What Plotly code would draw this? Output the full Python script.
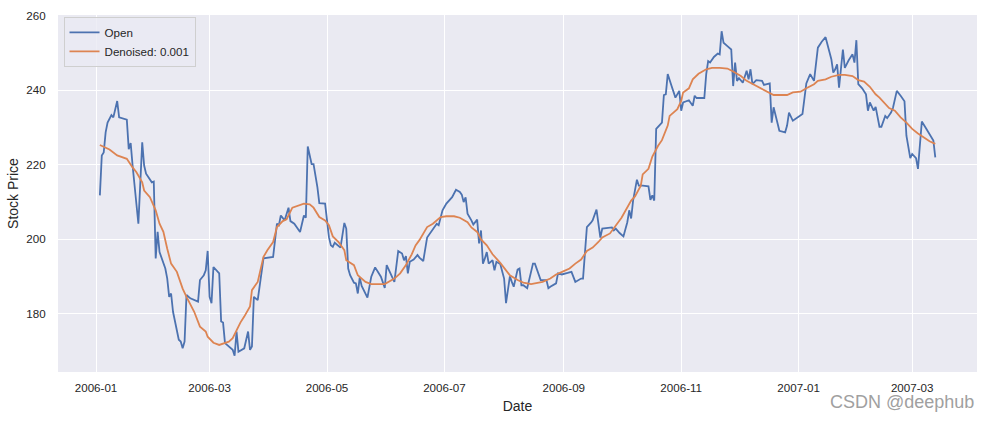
import plotly.graph_objects as go

open_dates = [
"2006-01-03","2006-01-04","2006-01-05","2006-01-06","2006-01-07","2006-01-09","2006-01-10","2006-01-11","2006-01-12","2006-01-13",
"2006-01-17","2006-01-18","2006-01-19","2006-01-20","2006-01-23","2006-01-25","2006-01-26","2006-01-27","2006-01-30","2006-01-31",
"2006-02-01","2006-02-02","2006-02-03","2006-02-06","2006-02-07","2006-02-08","2006-02-09","2006-02-10","2006-02-12","2006-02-13",
"2006-02-14","2006-02-15","2006-02-16","2006-02-17","2006-02-19","2006-02-21","2006-02-23","2006-02-24","2006-02-26","2006-02-27",
"2006-02-28","2006-03-01","2006-03-02","2006-03-03","2006-03-06","2006-03-07","2006-03-08","2006-03-09","2006-03-11","2006-03-13",
"2006-03-14","2006-03-15","2006-03-16","2006-03-19","2006-03-21","2006-03-22","2006-03-23","2006-03-24","2006-03-26","2006-03-29",
"2006-04-03","2006-04-05","2006-04-06","2006-04-07","2006-04-09","2006-04-11","2006-04-12","2006-04-14","2006-04-17","2006-04-19",
"2006-04-20","2006-04-21","2006-04-23","2006-04-24","2006-04-26","2006-04-27","2006-04-30","2006-05-02","2006-05-03","2006-05-04",
"2006-05-05","2006-05-08","2006-05-10","2006-05-11","2006-05-12","2006-05-13","2006-05-15","2006-05-16","2006-05-17","2006-05-18",
"2006-05-19","2006-05-22","2006-05-24","2006-05-26","2006-05-29","2006-05-31","2006-06-01","2006-06-05","2006-06-07","2006-06-09",
"2006-06-10","2006-06-11","2006-06-12","2006-06-13","2006-06-15","2006-06-17","2006-06-18","2006-06-20","2006-06-22","2006-06-24",
"2006-06-25","2006-06-27","2006-06-28","2006-06-30","2006-07-02","2006-07-05","2006-07-07","2006-07-09","2006-07-10","2006-07-11",
"2006-07-12","2006-07-13","2006-07-15","2006-07-16","2006-07-18","2006-07-19","2006-07-20","2006-07-21","2006-07-22","2006-07-23",
"2006-07-24","2006-07-26","2006-07-27","2006-07-28","2006-07-30","2006-07-31","2006-08-01","2006-08-02","2006-08-04","2006-08-05",
"2006-08-06","2006-08-08","2006-08-09","2006-08-10","2006-08-11","2006-08-13","2006-08-14","2006-08-16","2006-08-17","2006-08-18",
"2006-08-20","2006-08-23","2006-08-24","2006-08-25","2006-08-28","2006-08-29","2006-08-31","2006-09-03","2006-09-05","2006-09-07",
"2006-09-10","2006-09-11","2006-09-12","2006-09-13","2006-09-15","2006-09-16","2006-09-18","2006-09-20","2006-09-21","2006-09-26",
"2006-09-27","2006-09-28","2006-09-30","2006-10-02","2006-10-04","2006-10-05","2006-10-06","2006-10-07","2006-10-09","2006-10-10",
"2006-10-12","2006-10-15","2006-10-16","2006-10-17","2006-10-18","2006-10-19","2006-10-22","2006-10-23","2006-10-24","2006-10-25",
"2006-10-27","2006-10-29","2006-10-31","2006-11-01","2006-11-02","2006-11-05","2006-11-07","2006-11-08","2006-11-09","2006-11-13",
"2006-11-14","2006-11-15","2006-11-16","2006-11-18","2006-11-20","2006-11-21","2006-11-22","2006-11-23","2006-11-25","2006-11-27",
"2006-11-28","2006-11-29","2006-11-30","2006-12-01","2006-12-03","2006-12-05","2006-12-06","2006-12-07","2006-12-08","2006-12-10",
"2006-12-13","2006-12-14","2006-12-17","2006-12-18","2006-12-19","2006-12-20","2006-12-22","2006-12-25","2006-12-26","2006-12-27",
"2006-12-29","2007-01-03","2007-01-04","2007-01-05","2007-01-07","2007-01-09","2007-01-11","2007-01-13","2007-01-15","2007-01-18",
"2007-01-19","2007-01-20","2007-01-21","2007-01-22","2007-01-24","2007-01-25","2007-01-27","2007-01-28","2007-01-29","2007-01-30",
"2007-01-31","2007-02-01","2007-02-03","2007-02-05","2007-02-06","2007-02-07","2007-02-08","2007-02-09","2007-02-10","2007-02-11",
"2007-02-12","2007-02-13","2007-02-15","2007-02-16","2007-02-18","2007-02-19","2007-02-21","2007-02-23","2007-02-25","2007-02-26",
"2007-02-28","2007-03-01","2007-03-03","2007-03-04","2007-03-06","2007-03-08","2007-03-10","2007-03-12","2007-03-13"]

open_values = [
211.8,222.5,223.3,228.7,231.3,233.3,232.7,235.4,237.1,232.7,
232.1,224.2,225.8,219.8,204.2,226.0,219.8,217.6,215.3,215.5,
194.9,202.0,196.6,192.2,189.5,184.6,185.5,180.6,175.3,173.1,
172.6,170.8,172.6,185.1,184.2,183.7,183.3,189.1,190.4,191.7,
196.9,184.6,182.9,192.6,190.9,178.0,177.7,172.2,171.3,170.4,
168.8,175.3,169.9,170.8,175.3,170.4,171.3,184.6,183.7,194.9,
195.3,204.2,203.8,206.4,205.1,208.5,204.9,204.2,202.0,206.4,
205.8,224.9,220.2,220.2,214.0,209.7,209.6,200.6,198.4,198.0,
199.1,197.8,204.4,202.9,192.2,190.4,188.4,188.2,185.5,189.8,
187.5,184.4,190.0,192.5,190.0,187.0,193.1,188.6,196.9,196.2,
194.4,195.5,190.9,194.0,194.6,195.8,195.1,194.2,200.5,202.0,
202.9,204.2,203.8,207.8,209.6,211.3,213.3,212.7,212.0,210.0,
211.3,206.9,205.1,204.0,205.3,198.9,202.4,193.5,194.9,196.6,
193.5,194.4,191.7,194.0,193.4,191.0,189.5,182.9,190.1,188.6,
187.3,191.9,192.2,187.7,187.7,186.9,189.1,193.5,193.5,192.2,
189.1,189.1,186.9,187.3,188.2,190.9,190.6,191.0,191.3,188.6,
189.5,189.5,198.0,203.3,204.4,205.1,208.0,200.5,202.9,203.2,
202.4,202.9,201.7,200.8,204.6,207.8,205.6,210.4,216.0,214.4,
214.4,214.2,210.6,211.8,210.4,229.6,231.3,238.7,238.9,244.3,
241.1,238.0,239.8,234.5,236.7,237.3,235.8,238.5,237.9,237.9,
244.3,247.8,247.4,248.9,249.8,249.6,255.8,252.7,251.8,250.9,
241.1,247.4,242.5,243.2,242.0,245.2,242.9,245.6,241.6,242.7,
242.5,241.4,241.8,231.3,235.4,233.1,229.1,228.7,230.5,234.0,
231.8,233.6,238.7,241.8,244.3,242.5,251.4,253.0,254.2,248.3,
244.7,245.6,246.9,240.7,250.9,246.0,248.0,248.7,249.6,247.4,
253.4,241.6,240.5,238.9,234.5,236.7,235.5,234.5,235.5,232.3,
230.2,230.2,233.1,232.5,234.0,235.2,239.8,238.5,237.0,227.8,
221.8,222.9,221.8,218.9,231.6,229.9,228.3,226.5,222.0]

den_dates = [
"2006-01-03","2006-01-08","2006-01-12","2006-01-17","2006-01-20","2006-01-22","2006-01-25","2006-01-26","2006-01-29","2006-02-01",
"2006-02-03","2006-02-05","2006-02-07","2006-02-09","2006-02-12","2006-02-15","2006-02-17","2006-02-19","2006-02-21","2006-02-24",
"2006-02-27","2006-02-28","2006-03-03","2006-03-06","2006-03-08","2006-03-11","2006-03-13","2006-03-15","2006-03-17","2006-03-19",
"2006-03-22","2006-03-23","2006-03-26","2006-03-29","2006-03-31","2006-04-03","2006-04-05","2006-04-08","2006-04-10","2006-04-13",
"2006-04-15","2006-04-19","2006-04-22","2006-04-24","2006-04-27","2006-04-30","2006-05-02","2006-05-04","2006-05-07","2006-05-10",
"2006-05-11","2006-05-15","2006-05-17","2006-05-21","2006-05-24","2006-05-28","2006-05-31","2006-06-05","2006-06-08","2006-06-11",
"2006-06-14","2006-06-16","2006-06-18","2006-06-22","2006-06-25","2006-06-29","2006-07-02","2006-07-06","2006-07-09","2006-07-13",
"2006-07-15","2006-07-18","2006-07-20","2006-07-23","2006-07-26","2006-07-30","2006-08-02","2006-08-04","2006-08-08","2006-08-11",
"2006-08-15","2006-08-18","2006-08-21","2006-08-25","2006-08-28","2006-09-01","2006-09-04","2006-09-07","2006-09-10","2006-09-13",
"2006-09-16","2006-09-19","2006-09-21","2006-09-25","2006-09-29","2006-10-01","2006-10-06","2006-10-08","2006-10-11","2006-10-12",
"2006-10-15","2006-10-17","2006-10-20","2006-10-22","2006-10-25","2006-10-26","2006-10-30","2006-11-01","2006-11-02","2006-11-05",
"2006-11-07","2006-11-10","2006-11-14","2006-11-17","2006-11-21","2006-11-25","2006-11-28","2006-12-02","2006-12-05","2006-12-09",
"2006-12-12","2006-12-16","2006-12-19","2006-12-23","2006-12-26","2006-12-29","2007-01-02","2007-01-05","2007-01-09","2007-01-11",
"2007-01-15","2007-01-18","2007-01-22","2007-01-25","2007-01-29","2007-02-01","2007-02-04","2007-02-07","2007-02-10","2007-02-12",
"2007-02-15","2007-02-17","2007-02-20","2007-02-23","2007-02-26","2007-03-01","2007-03-04","2007-03-07","2007-03-10","2007-03-13"]

den_values = [
225.3,224.1,222.5,221.6,219.3,218.0,215.3,213.1,211.3,207.8,
204.2,202.0,197.5,193.5,191.3,186.8,184.6,182.5,180.6,176.6,
175.3,173.9,172.3,171.7,172.0,172.6,173.5,175.7,177.7,179.3,
182.0,186.4,188.6,195.3,197.1,199.3,203.3,204.9,205.4,208.5,
208.8,209.6,209.4,208.5,206.0,205.1,203.8,200.8,199.3,197.1,
194.4,193.1,190.4,188.6,188.0,188.0,188.0,189.5,190.9,193.1,
196.0,198.4,199.8,203.3,204.2,206.0,206.2,206.2,205.8,204.6,
203.2,202.0,200.0,198.4,196.0,193.7,191.7,190.4,189.1,188.4,
188.0,188.2,188.6,189.5,190.6,191.5,192.2,193.5,194.6,196.9,
197.8,199.3,200.5,201.6,204.6,205.8,210.4,211.5,214.4,217.4,
218.9,222.2,225.1,226.6,230.5,233.1,234.9,237.1,239.4,240.5,
242.9,244.4,245.6,246.0,246.0,245.8,245.0,243.8,242.5,241.4,
240.5,239.4,238.7,238.7,238.7,239.4,239.6,240.5,241.6,242.5,
242.9,243.6,244.1,244.1,243.8,242.7,242.3,240.9,238.9,238.0,
236.3,235.2,234.5,232.7,231.3,229.6,228.4,227.3,226.3,225.6]

series_names = ["Open", "Denoised: 0.001"]
y_ticks = [180, 200, 220, 240, 260]

FONT = "Liberation Sans, Arial, sans-serif"
TXT = "#262626"

fig = go.Figure()
fig.add_trace(go.Scatter(x=open_dates, y=open_values, mode="lines", name=series_names[0],
                         line=dict(color="#4C72B0", width=1.8)))
fig.add_trace(go.Scatter(x=den_dates, y=den_values, mode="lines", name=series_names[1],
                         line=dict(color="#DD8452", width=1.8)))

fig.update_layout(
    width=990, height=421,
    margin=dict(l=58, r=13, t=15, b=49, autoexpand=False),
    paper_bgcolor="white",
    plot_bgcolor="#EAEAF2",
    font=dict(family=FONT, size=11.6, color=TXT),
    showlegend=True,
    legend=dict(x=0.006, y=0.995, xanchor="left", yanchor="top",
                bgcolor="rgba(234,234,242,0.8)", bordercolor="#CFCFCF", borderwidth=1,
                font=dict(family=FONT, size=11.6, color=TXT),
                itemwidth=30, tracegroupgap=0),
    xaxis=dict(
        type="date", automargin=False,
        range=["2005-12-12 06:00", "2007-04-03 16:00"],
        dtick="M2", tick0="2006-01-01", tickformat="%Y-%m",
        showgrid=True, gridcolor="white", gridwidth=1.2,
        zeroline=False, showline=False,
        ticks="outside", ticklen=5, tickcolor="rgba(0,0,0,0)",
        tickfont=dict(family=FONT, size=11.6, color=TXT),
        title=dict(text="Date", font=dict(family=FONT, size=14, color=TXT), standoff=8),
    ),
    yaxis=dict(
        automargin=False,
        range=[164.45, 260.15],
        tickvals=y_ticks,
        showgrid=True, gridcolor="white", gridwidth=1.2,
        zeroline=False, showline=False,
        ticks="outside", ticklen=9, tickcolor="rgba(0,0,0,0)",
        tickfont=dict(family=FONT, size=11.6, color=TXT),
        title=dict(text="Stock Price", font=dict(family=FONT, size=14, color=TXT), standoff=4),
    ),
)

fig.add_annotation(text="CSDN @deephub", xref="paper", yref="paper",
                   x=0.999, y=-0.084, xanchor="right", yanchor="middle",
                   showarrow=False, font=dict(family=FONT, size=18, color="#A0A0A0"))

fig.write_html("out.html", config={"displayModeBar": False},
               post_script="document.body.style.margin='0';document.body.style.padding='0';document.body.style.overflow='hidden';")
